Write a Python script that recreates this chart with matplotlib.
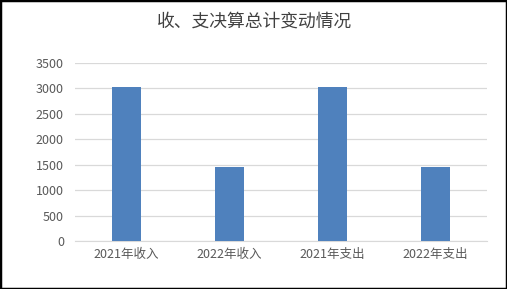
import matplotlib
matplotlib.use("Agg")
import matplotlib.pyplot as plt
from matplotlib.patches import Rectangle

plt.rcParams['font.family'] = ['Noto Sans CJK SC', 'DejaVu Sans']

categories = ["2021年收入", "2022年收入", "2021年支出", "2022年支出"]
values = [3028, 1455, 3028, 1455]
yticks = [0, 500, 1000, 1500, 2000, 2500, 3000, 3500]

fig = plt.figure(figsize=(5.07, 2.89), dpi=100)
ax = fig.add_axes([75/507, 1-241/289, (487-75)/507, (241-63)/289])

x = range(len(categories))
ax.bar(x, values, width=0.29, color="#4f81bd", zorder=3)
ax.set_xlim(-0.5, 3.5)
ax.set_ylim(0, 3500)
ax.set_yticks(yticks)
ax.set_xticks(list(x))
ax.set_xticklabels(categories)
ax.grid(axis="y", color="#d9d9d9", linewidth=0.9, zorder=0)
for s in ["top", "right", "left"]:
    ax.spines[s].set_visible(False)
ax.spines["bottom"].set_color("#d9d9d9")
ax.tick_params(axis="both", length=0, labelsize=9, colors="#595959")
ax.tick_params(axis="y", pad=8)
ax.tick_params(axis="x", pad=5)

fig.text(0.503, 1-22/289, "收、支决算总计变动情况", ha="center", va="center",
         fontsize=12.8, color="#404040", fontweight="light")

fig.patches.append(Rectangle((0, 0), 1, 1, transform=fig.transFigure,
                             fill=False, edgecolor="black", linewidth=2.5))

fig.savefig("out.png", dpi=100)
